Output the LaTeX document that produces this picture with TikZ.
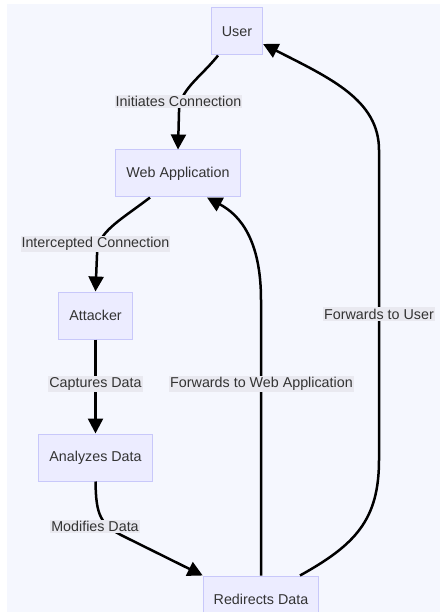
\documentclass[tikz,border=0pt]{standalone}
\usepackage{fontspec}
\setmainfont{Liberation Sans}
\usetikzlibrary{arrows.meta}
\definecolor{bg}{HTML}{F5F7FE}
\definecolor{nodefill}{HTML}{ECECFF}
\definecolor{nodeline}{HTML}{C8C8FA}
\definecolor{labelfill}{HTML}{E9E9F0}
\definecolor{txt}{HTML}{333333}
\begin{document}
\begin{tikzpicture}[x=1pt,y=-1pt,
  box/.style={draw=nodeline, fill=nodefill, line width=1pt, minimum height=47pt,
    inner xsep=10.5pt, text=txt, font=\fontsize{14.3}{17}\selectfont},
  lbl/.style={fill=labelfill, text=txt, inner xsep=1pt, inner ysep=1.5pt,
    font=\fontsize{14.3}{17}\selectfont},
  edge/.style={draw=black, line width=2.5pt, -{Triangle[length=15pt,width=15pt]}}]
\useasboundingbox (0,0) rectangle (440,612);
\fill[white] (0,0) rectangle (440,612);
\fill[bg] (7,4) rectangle (440,612);

\node[box] (user) at (237,31.5) {User};
\node[box] (web) at (178,173.5) {Web Application};
\node[box] (att) at (95.5,315.5) {Attacker};
\node[box] (ana) at (95.5,457.5) {Analyzes Data};
\node[box] (red) at (261,599.5) {Redirects Data};

\draw[edge] ([xshift=-19pt]user.south) .. controls (200,78) and (179,90) .. (179,112) -- (web.north);
\draw[edge] ([xshift=-28pt]web.south) .. controls (118,222) and (97,232) .. (97,255) -- (att.north);
\draw[edge] (att.south) -- (ana.north);
\draw[edge] (ana.south) .. controls (96,515) and (100,525) .. (125,537) -- (red.north west);
\draw[edge] (red.north) -- (261,300) .. controls (261,240) and (240,215) .. ([xshift=29pt]web.south);
\draw[edge] ([xshift=39pt]red.north) .. controls (355,545) and (379,520) .. (379,460) -- (379,150) .. controls (379,100) and (330,78) .. ([yshift=-12.5pt]user.east);

\node[lbl] (l1) at (178.5,101.5) {Initiates Connection};
\node[lbl] (l2) at (95.5,244) {Intercepted Connection};
\node[lbl] (l3) at (95.5,384) {Captures Data};
\node[lbl] (l4) at (261.5,384) {Forwards to Web Application};
\node[lbl] (l5) at (95,526.5) {Modifies Data};
\node[lbl] (l6) at (379,314) {Forwards to User};
\end{tikzpicture}
\end{document}
